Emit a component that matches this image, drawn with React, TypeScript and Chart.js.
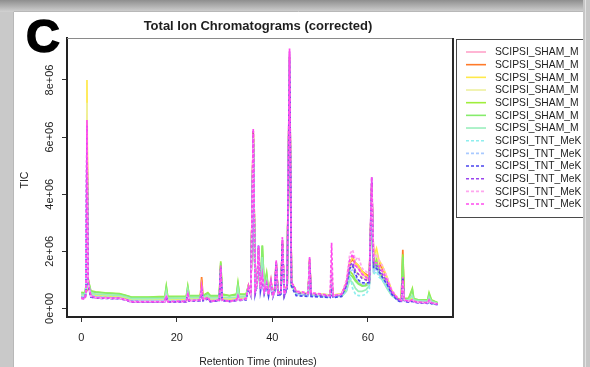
import { useEffect, useRef } from "react";
import { Chart, registerables } from "chart.js";

Chart.register(...registerables);

// Retention time grid (minutes) shared by all traces
const retentionTime = [
  0, 0.8, 1.0, 1.2, 1.4, 1.6, 2.0, 3.0, 5, 8,
  9.5, 10.5, 14, 17.5, 17.8, 18.1, 22.0, 22.3, 22.6, 24.9,
  25.2, 25.5, 26.5, 27.0, 28.9, 29.2, 29.5, 31, 32.5, 32.8,
  33.1, 34.5, 35.0, 35.5, 36.0, 36.4, 36.8, 37.1, 37.5, 37.9,
  38.3, 38.8, 39.2, 39.7, 40.1, 40.5, 40.8, 41.2, 41.8, 42.1,
  42.5, 43.1, 43.6, 44.0, 44.5, 45.0, 47.5, 47.8, 48.1, 50.5,
  52.1, 52.4, 52.7, 54.5, 55.5, 56.2, 56.8, 57.4, 58.0, 58.8,
  59.6, 60.3, 60.8, 61.2, 61.8, 62.3, 63.0, 64.0, 65.0, 66.2,
  67.0, 67.3, 67.6, 68.5, 69.3, 69.6, 70.5, 72.5, 72.8, 73.3,
  74.6,
];

// TIC values in millions of counts
const shamPink = [
  0.4, 0.38, 0.6, 6.5, 1.0, 0.8, 0.48, 0.42, 0.4, 0.38,
  0.32, 0.27, 0.27, 0.27, 0.45, 0.27, 0.28, 0.55, 0.3, 0.32,
  1.0, 0.32, 0.42, 0.28, 0.32, 1.45, 0.32, 0.28, 0.32, 0.45,
  0.32, 0.36, 0.75, 0.5, 6.2, 0.6, 0.85, 2.1, 0.7, 1.3,
  0.6, 0.9, 0.5, 0.95, 0.45, 0.7, 1.6, 0.5, 0.6, 2.4,
  0.5, 0.8, 8.9, 0.85, 0.75, 0.55, 0.5, 1.7, 0.5, 0.48,
  0.45, 1.0, 0.45, 0.5, 0.85, 1.6, 1.75, 1.5, 1.4, 1.2,
  1.1, 1.0, 4.4, 1.7, 1.8, 1.6, 1.4, 1.0, 0.6, 0.35,
  0.3, 1.5, 0.3, 0.27, 0.3, 0.27, 0.24, 0.22, 0.3, 0.2,
  0.16,
];
const shamOrange = [
  0.42, 0.4, 0.65, 6.8, 1.0, 0.8, 0.5, 0.44, 0.42, 0.4,
  0.34, 0.28, 0.28, 0.29, 0.48, 0.29, 0.3, 0.55, 0.32, 0.33,
  1.1, 0.33, 0.42, 0.3, 0.33, 1.5, 0.33, 0.3, 0.33, 0.48,
  0.33, 0.37, 0.78, 0.5, 6.2, 0.6, 0.85, 2.1, 0.7, 1.5,
  0.6, 0.95, 0.5, 0.95, 0.45, 0.7, 1.6, 0.5, 0.6, 2.3,
  0.5, 0.8, 8.8, 0.85, 0.75, 0.55, 0.5, 1.7, 0.5, 0.48,
  0.45, 0.9, 0.45, 0.5, 0.9, 1.6, 1.7, 1.6, 1.5, 1.3,
  1.2, 1.1, 4.3, 1.7, 1.9, 1.6, 1.4, 1.05, 0.6, 0.35,
  0.3, 2.05, 0.32, 0.28, 0.32, 0.28, 0.25, 0.22, 0.32, 0.2,
  0.16,
];
const shamYellow = [
  0.45, 0.42, 0.7, 8.0, 1.1, 0.85, 0.52, 0.46, 0.44, 0.42,
  0.36, 0.3, 0.3, 0.3, 0.5, 0.3, 0.31, 0.6, 0.33, 0.35,
  0.8, 0.34, 0.45, 0.31, 0.34, 1.5, 0.34, 0.31, 0.34, 0.5,
  0.34, 0.38, 0.8, 0.55, 6.1, 0.62, 0.9, 2.0, 0.75, 1.7,
  0.62, 1.0, 0.52, 1.0, 0.47, 0.72, 1.6, 0.52, 0.62, 2.3,
  0.52, 0.82, 8.7, 0.88, 0.78, 0.58, 0.52, 1.7, 0.52, 0.5,
  0.47, 1.0, 0.47, 0.52, 0.9, 1.6, 1.8, 1.6, 1.5, 1.3,
  1.15, 1.05, 4.2, 1.8, 2.1, 1.7, 1.5, 1.1, 0.62, 0.36,
  0.3, 1.2, 0.32, 0.28, 0.35, 0.28, 0.25, 0.23, 0.32, 0.2,
  0.17,
];
const shamPaleYellow = [
  0.48, 0.46, 0.7, 7.2, 1.05, 0.85, 0.55, 0.5, 0.48, 0.46,
  0.4, 0.34, 0.34, 0.35, 0.55, 0.35, 0.36, 0.62, 0.38, 0.38,
  0.7, 0.38, 0.48, 0.36, 0.38, 1.5, 0.4, 0.36, 0.4, 0.6,
  0.4, 0.42, 0.8, 0.55, 6.0, 0.62, 0.85, 1.9, 0.75, 1.9,
  0.65, 1.1, 0.55, 0.95, 0.5, 0.7, 1.55, 0.52, 0.62, 2.2,
  0.52, 0.8, 8.6, 0.85, 0.78, 0.58, 0.52, 1.65, 0.52, 0.5,
  0.47, 0.95, 0.47, 0.5, 0.8, 1.45, 1.5, 1.3, 1.2, 1.1,
  1.0, 1.0, 4.1, 1.6, 1.9, 1.5, 1.3, 1.0, 0.55, 0.36,
  0.32, 1.4, 0.34, 0.3, 0.5, 0.3, 0.27, 0.25, 0.4, 0.22,
  0.18,
];
const shamLime = [
  0.56, 0.55, 0.8, 6.0, 1.1, 0.9, 0.62, 0.58, 0.55, 0.52,
  0.45, 0.4, 0.4, 0.42, 0.78, 0.42, 0.42, 0.78, 0.45, 0.45,
  0.65, 0.45, 0.55, 0.45, 0.45, 1.65, 0.5, 0.45, 0.5, 0.9,
  0.5, 0.5, 0.8, 0.6, 6.0, 0.7, 0.8, 1.6, 0.8, 2.2,
  0.8, 1.25, 0.6, 0.9, 0.55, 0.7, 1.5, 0.55, 0.6, 2.2,
  0.55, 0.8, 8.5, 0.8, 0.75, 0.55, 0.5, 1.6, 0.5, 0.45,
  0.45, 0.9, 0.45, 0.45, 0.7, 1.3, 1.2, 1.0, 0.9, 0.8,
  0.85, 0.9, 4.0, 1.5, 1.7, 1.3, 1.1, 0.8, 0.5, 0.35,
  0.3, 1.9, 0.35, 0.35, 0.7, 0.35, 0.3, 0.3, 0.55, 0.3,
  0.2,
];
const shamGreen = [
  0.54, 0.53, 0.78, 5.8, 1.05, 0.88, 0.6, 0.56, 0.54, 0.5,
  0.44, 0.39, 0.39, 0.4, 0.75, 0.4, 0.41, 0.75, 0.44, 0.44,
  0.62, 0.44, 0.52, 0.44, 0.44, 1.6, 0.48, 0.44, 0.48, 0.85,
  0.48, 0.48, 0.78, 0.58, 5.9, 0.68, 0.78, 1.6, 0.8, 2.2,
  0.78, 1.2, 0.58, 0.88, 0.52, 0.68, 1.45, 0.52, 0.58, 2.1,
  0.52, 0.78, 8.4, 0.78, 0.72, 0.52, 0.48, 1.55, 0.48, 0.43,
  0.43, 0.85, 0.43, 0.43, 0.65, 1.2, 1.1, 0.95, 0.85, 0.78,
  0.8, 0.88, 3.9, 1.4, 1.6, 1.25, 1.05, 0.75, 0.48, 0.33,
  0.3, 1.8, 0.33, 0.33, 0.65, 0.33, 0.3, 0.28, 0.5, 0.28,
  0.2,
];
const shamMint = [
  0.5, 0.48, 0.72, 5.5, 1.0, 0.82, 0.55, 0.5, 0.48, 0.46,
  0.4, 0.34, 0.34, 0.35, 0.6, 0.35, 0.36, 0.65, 0.38, 0.38,
  0.6, 0.38, 0.46, 0.37, 0.38, 1.4, 0.4, 0.37, 0.4, 0.7,
  0.4, 0.42, 0.75, 0.55, 5.8, 0.6, 0.75, 1.7, 0.7, 1.8,
  0.7, 1.0, 0.5, 0.85, 0.48, 0.65, 1.4, 0.48, 0.55, 2.0,
  0.48, 0.75, 8.3, 0.75, 0.68, 0.5, 0.46, 1.5, 0.46, 0.42,
  0.42, 0.8, 0.42, 0.42, 0.6, 1.0, 0.9, 0.7, 0.6, 0.6,
  0.65, 0.8, 3.8, 1.3, 1.5, 1.2, 1.0, 0.7, 0.45, 0.3,
  0.28, 0.9, 0.3, 0.3, 0.45, 0.3, 0.27, 0.26, 0.4, 0.25,
  0.18,
];
const tntCyan = [
  0.42, 0.4, 0.65, 5.6, 0.95, 0.75, 0.48, 0.42, 0.4, 0.38,
  0.32, 0.27, 0.27, 0.27, 0.45, 0.27, 0.28, 0.5, 0.29, 0.3,
  0.6, 0.3, 0.36, 0.27, 0.3, 1.3, 0.3, 0.27, 0.3, 0.42,
  0.3, 0.34, 0.72, 0.5, 5.9, 0.55, 0.8, 2.0, 0.65, 1.2,
  0.55, 0.8, 0.45, 0.9, 0.42, 0.65, 1.5, 0.45, 0.55, 2.2,
  0.45, 0.75, 8.7, 0.8, 0.7, 0.5, 0.45, 1.5, 0.45, 0.42,
  0.4, 0.7, 0.4, 0.45, 0.6, 1.2, 0.7, 0.5, 0.45, 0.45,
  0.5, 0.7, 4.0, 1.2, 1.3, 1.1, 1.0, 0.75, 0.45, 0.3,
  0.25, 0.6, 0.27, 0.24, 0.28, 0.24, 0.21, 0.2, 0.26, 0.18,
  0.14,
];
const tntLightBlue = [
  0.4, 0.38, 0.6, 5.8, 0.9, 0.7, 0.45, 0.4, 0.38, 0.36,
  0.3, 0.26, 0.26, 0.26, 0.42, 0.26, 0.27, 0.5, 0.28, 0.3,
  0.6, 0.3, 0.36, 0.27, 0.3, 1.3, 0.3, 0.27, 0.3, 0.4,
  0.3, 0.33, 0.7, 0.48, 5.8, 0.55, 0.8, 2.0, 0.65, 1.1,
  0.55, 0.8, 0.45, 0.9, 0.42, 0.65, 1.5, 0.45, 0.55, 2.2,
  0.45, 0.75, 8.6, 0.8, 0.7, 0.5, 0.45, 1.5, 0.45, 0.42,
  0.4, 0.8, 0.4, 0.45, 0.7, 1.3, 1.35, 1.1, 0.95, 0.85,
  0.85, 0.85, 4.2, 1.3, 1.4, 1.2, 1.05, 0.8, 0.5, 0.3,
  0.25, 0.7, 0.27, 0.24, 0.27, 0.24, 0.21, 0.2, 0.25, 0.18,
  0.14,
];
const tntBlue = [
  0.38, 0.36, 0.6, 6.0, 0.9, 0.7, 0.4, 0.36, 0.35, 0.34,
  0.3, 0.24, 0.23, 0.23, 0.4, 0.23, 0.24, 0.48, 0.26, 0.27,
  0.6, 0.27, 0.33, 0.24, 0.27, 1.4, 0.28, 0.25, 0.28, 0.38,
  0.28, 0.3, 0.7, 0.45, 6.0, 0.5, 0.8, 2.2, 0.6, 1.0,
  0.5, 0.8, 0.42, 0.9, 0.4, 0.6, 1.6, 0.42, 0.5, 2.3,
  0.42, 0.7, 8.8, 0.8, 0.6, 0.45, 0.42, 1.6, 0.42, 0.4,
  0.38, 0.6, 0.38, 0.42, 0.8, 1.4, 1.5, 1.2, 1.0, 0.9,
  0.9, 0.9, 4.4, 1.4, 1.4, 1.3, 1.1, 0.85, 0.5, 0.28,
  0.22, 1.1, 0.25, 0.22, 0.25, 0.22, 0.2, 0.18, 0.22, 0.17,
  0.13,
];
const tntPurple = [
  0.36, 0.34, 0.6, 6.4, 0.95, 0.75, 0.42, 0.37, 0.36, 0.35,
  0.28, 0.22, 0.22, 0.23, 0.42, 0.23, 0.23, 0.5, 0.26, 0.28,
  0.7, 0.28, 0.35, 0.24, 0.28, 1.45, 0.28, 0.24, 0.28, 0.4,
  0.28, 0.32, 0.75, 0.45, 6.2, 0.55, 0.85, 2.1, 0.65, 1.1,
  0.55, 0.85, 0.45, 0.95, 0.42, 0.65, 1.65, 0.45, 0.55, 2.4,
  0.45, 0.75, 9.0, 0.85, 0.75, 0.55, 0.5, 1.75, 0.5, 0.45,
  0.42, 1.2, 0.42, 0.48, 0.85, 1.5, 1.6, 1.3, 1.2, 1.05,
  1.0, 0.95, 4.6, 1.5, 1.5, 1.4, 1.2, 0.95, 0.55, 0.32,
  0.26, 1.0, 0.28, 0.24, 0.28, 0.24, 0.2, 0.2, 0.28, 0.18,
  0.15,
];
const tntLightPink = [
  0.36, 0.34, 0.55, 6.2, 0.9, 0.75, 0.43, 0.37, 0.36, 0.35,
  0.29, 0.24, 0.24, 0.24, 0.42, 0.24, 0.25, 0.5, 0.27, 0.29,
  0.7, 0.29, 0.38, 0.25, 0.29, 1.4, 0.29, 0.25, 0.29, 0.42,
  0.29, 0.33, 0.75, 0.48, 6.1, 0.58, 0.85, 2.1, 0.68, 1.1,
  0.58, 0.85, 0.48, 0.95, 0.44, 0.68, 1.6, 0.48, 0.58, 2.4,
  0.48, 0.78, 9.0, 0.88, 0.78, 0.58, 0.52, 1.7, 0.52, 0.48,
  0.44, 1.6, 0.44, 0.5, 1.0, 1.9, 2.05, 1.7, 1.8, 1.4,
  1.3, 1.2, 4.3, 1.8, 1.9, 1.7, 1.5, 1.1, 0.65, 0.38,
  0.3, 0.9, 0.3, 0.26, 0.3, 0.26, 0.22, 0.2, 0.3, 0.2,
  0.16,
];
const tntMagenta = [
  0.35, 0.33, 0.6, 6.6, 1.0, 0.8, 0.45, 0.38, 0.37, 0.36,
  0.3, 0.24, 0.24, 0.24, 0.45, 0.24, 0.25, 0.55, 0.28, 0.3,
  0.75, 0.3, 0.4, 0.25, 0.3, 1.5, 0.3, 0.25, 0.3, 0.45,
  0.3, 0.35, 0.8, 0.5, 6.3, 0.6, 0.9, 2.2, 0.7, 1.2,
  0.6, 0.9, 0.5, 1.0, 0.45, 0.7, 1.7, 0.5, 0.6, 2.5,
  0.5, 0.8, 9.1, 0.9, 0.8, 0.6, 0.55, 1.8, 0.55, 0.5,
  0.45, 2.3, 0.45, 0.5, 0.9, 1.7, 1.9, 1.5, 1.4, 1.2,
  1.1, 1.0, 4.6, 1.6, 1.6, 1.5, 1.3, 1.0, 0.6, 0.35,
  0.28, 1.1, 0.3, 0.25, 0.3, 0.25, 0.22, 0.2, 0.3, 0.2,
  0.15,
];

const seriesNames = [
  "SCIPSI_SHAM_M", "SCIPSI_SHAM_M", "SCIPSI_SHAM_M", "SCIPSI_SHAM_M",
  "SCIPSI_SHAM_M", "SCIPSI_SHAM_M", "SCIPSI_SHAM_M",
  "SCIPSI_TNT_MeK", "SCIPSI_TNT_MeK", "SCIPSI_TNT_MeK",
  "SCIPSI_TNT_MeK", "SCIPSI_TNT_MeK", "SCIPSI_TNT_MeK",
];
const seriesValues = [
  shamPink, shamOrange, shamYellow, shamPaleYellow, shamLime, shamGreen, shamMint,
  tntCyan, tntLightBlue, tntBlue, tntPurple, tntLightPink, tntMagenta,
];
const seriesColors = [
  "#ffa3c9", "#ff7a2a", "#ffe94a", "#eef0a0", "#9fee3c", "#86ec6c", "#9aeebc",
  "#8eeeee", "#a9caff", "#4a44ee", "#9a44ee", "#ffa6ee", "#ff4cee",
];
const seriesDashed = [false, false, false, false, false, false, false, true, true, true, true, true, true];

const xTickValues = [0, 20, 40, 60];
const xTickLabels = ["0", "20", "40", "60"];
const yTickValues = [0, 2, 4, 6, 8];
const yTickLabels = ["0e+00", "2e+06", "4e+06", "6e+06", "8e+06"];

const titleText = "Total Ion Chromatograms (corrected)";
const xTitle = "Retention Time (minutes)";
const yTitle = "TIC";
const panelLetter = "C";

const FONT = '"Liberation Sans", Arial, Helvetica, sans-serif';

export default function App() {
  const canvasRef = useRef<HTMLCanvasElement>(null);

  useEffect(() => {
    const canvas = canvasRef.current;
    if (!canvas) return;

    const datasets = seriesValues.map((vals, i) => ({
      label: seriesNames[i],
      data: retentionTime.map((t, j) => ({ x: t, y: vals[j] })),
      borderColor: seriesColors[i],
      backgroundColor: seriesColors[i],
      borderWidth: 1.7,
      borderDash: seriesDashed[i] ? [3, 2] : [],
      pointRadius: 0,
      tension: 0,
      fill: false,
      order: seriesValues.length - i,
    }));

    const decor = {
      id: "decor",
      beforeDraw(chart: any) {
        const ctx = chart.ctx as CanvasRenderingContext2D;
        const W = chart.width;
        const H = chart.height;
        ctx.save();
        // surrounding grey frame
        ctx.fillStyle = "#c9c9c9";
        ctx.fillRect(0, 0, W, H);
        const g = ctx.createLinearGradient(0, 0, 0, 12);
        g.addColorStop(0, "#8e8e8e");
        g.addColorStop(1, "#d2d2d2");
        ctx.fillStyle = g;
        ctx.fillRect(0, 0, W, 12);
        // white panel
        ctx.fillStyle = "#ffffff";
        ctx.fillRect(13, 11, 571, H - 11);
        ctx.strokeStyle = "#b8b8b8";
        ctx.lineWidth = 1;
        ctx.beginPath();
        ctx.moveTo(13.5, H);
        ctx.lineTo(13.5, 11.5);
        ctx.lineTo(583, 11.5);
        ctx.stroke();
        ctx.restore();
      },
      afterDraw(chart: any) {
        const ctx = chart.ctx as CanvasRenderingContext2D;
        const area = chart.chartArea;
        const xs = chart.scales.x;
        const ys = chart.scales.y;
        ctx.save();

        // remaining sides of the plot box
        ctx.strokeStyle = "#8a8a8a";
        ctx.lineWidth = 1;
        ctx.beginPath();
        ctx.moveTo(area.left, area.top + 0.5);
        ctx.lineTo(area.right, area.top + 0.5);
        ctx.stroke();
        ctx.strokeStyle = "#2a2a2a";
        ctx.lineWidth = 2;
        ctx.beginPath();
        ctx.moveTo(area.right + 1, area.top);
        ctx.lineTo(area.right + 1, area.bottom + 1);
        ctx.stroke();

        // tick labels
        ctx.fillStyle = "#1e1e1e";
        ctx.font = `11px ${FONT}`;
        ctx.textAlign = "center";
        ctx.textBaseline = "middle";
        xTickValues.forEach((v, i) => {
          ctx.fillText(xTickLabels[i], xs.getPixelForValue(v), 338);
        });
        yTickValues.forEach((v, i) => {
          ctx.save();
          ctx.translate(50, ys.getPixelForValue(v));
          ctx.rotate(-Math.PI / 2);
          ctx.fillText(yTickLabels[i], 0, 0);
          ctx.restore();
        });

        // axis titles
        ctx.font = `10.5px ${FONT}`;
        ctx.fillText(xTitle, 258, 362);
        ctx.save();
        ctx.translate(25, 180);
        ctx.rotate(-Math.PI / 2);
        ctx.fillText(yTitle, 0, 0);
        ctx.restore();

        // main title
        ctx.font = `bold 13px ${FONT}`;
        ctx.textBaseline = "alphabetic";
        ctx.fillText(titleText, 258, 30);

        // panel letter
        ctx.font = `bold 47px ${FONT}`;
        ctx.textAlign = "left";
        ctx.fillStyle = "#000000";
        ctx.strokeStyle = "#000000";
        ctx.lineWidth = 1.5;
        ctx.fillText(panelLetter, 26, 52);
        ctx.strokeText(panelLetter, 26, 52);

        // legend
        const lx = 456.5;
        const ly = 39.5;
        ctx.strokeStyle = "#4a4a4a";
        ctx.lineWidth = 1;
        ctx.strokeRect(lx, ly, 200, 178);
        ctx.font = `10.3px ${FONT}`;
        ctx.textBaseline = "middle";
        ctx.fillStyle = "#1e1e1e";
        seriesNames.forEach((name, i) => {
          const y = 52 + i * 12.67;
          ctx.strokeStyle = seriesColors[i];
          ctx.lineWidth = 1.6;
          ctx.setLineDash(seriesDashed[i] ? [3, 2] : []);
          ctx.beginPath();
          ctx.moveTo(466, y);
          ctx.lineTo(486, y);
          ctx.stroke();
          ctx.setLineDash([]);
          ctx.fillText(name, 495, y + 0.5);
        });

        // right edge of the frame covers the overflowing legend
        ctx.fillStyle = "#c6c6c6";
        ctx.fillRect(583, 0, 7, chart.height);
        ctx.fillStyle = "#e2e2e2";
        ctx.fillRect(585, 0, 1, chart.height);
        ctx.restore();
      },
    };

    const chart = new Chart(canvas, {
      type: "line",
      data: { datasets },
      options: {
        responsive: false,
        animation: false,
        layout: { padding: { left: 0, top: 38, right: 138, bottom: 0 } },
        plugins: { legend: { display: false }, tooltip: { enabled: false } },
        scales: {
          x: {
            type: "linear",
            min: -2.98,
            max: 77.6,
            afterFit: (s: any) => { s.height = 50; },
            afterBuildTicks: (s: any) => { s.ticks = xTickValues.map((v) => ({ value: v })); },
            grid: { drawOnChartArea: false, drawTicks: true, tickLength: 5, color: "#333", lineWidth: 1 },
            border: { display: true, color: "#222", width: 2 },
            ticks: { display: false },
          },
          y: {
            type: "linear",
            min: -0.3,
            max: 9.47,
            afterFit: (s: any) => { s.width = 67; },
            afterBuildTicks: (s: any) => { s.ticks = yTickValues.map((v) => ({ value: v })); },
            grid: { drawOnChartArea: false, drawTicks: true, tickLength: 5, color: "#333", lineWidth: 1 },
            border: { display: true, color: "#222", width: 2 },
            ticks: { display: false },
          },
        },
      },
      plugins: [decor],
    } as any);

    return () => chart.destroy();
  }, []);

  return (
    <div style={{ position: "fixed", left: 0, top: 0, width: 590, height: 367 }}>
      <canvas ref={canvasRef} width={590} height={367} style={{ display: "block" }} />
    </div>
  );
}
